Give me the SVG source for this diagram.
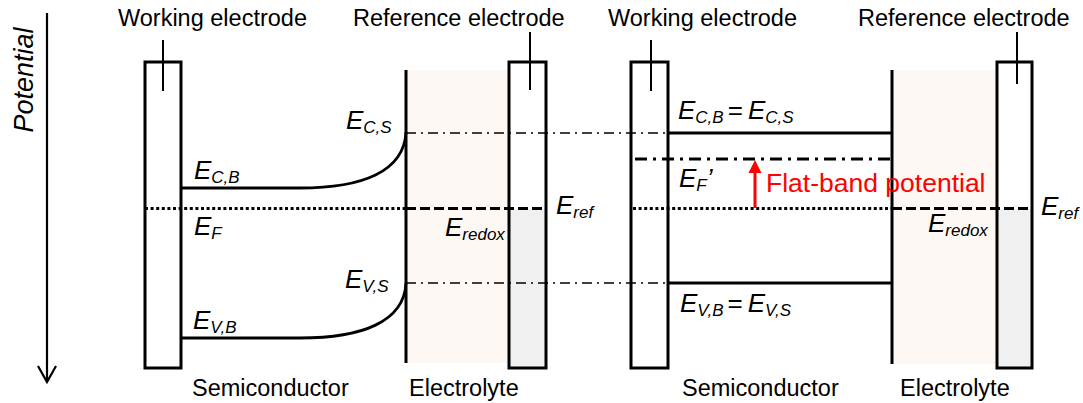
<svg xmlns="http://www.w3.org/2000/svg" width="1083" height="403" viewBox="0 0 1083 403">
<style>
text{font-family:"Liberation Sans",Arial,sans-serif;fill:#000}
.lbl{font-size:23.5px}
.E{font-size:26px;font-style:italic}
.sub{font-size:17px;font-style:italic}
.box{fill:none;stroke:#000;stroke-width:3}
.tick{stroke:#000;stroke-width:2}
.band{fill:none;stroke:#000;stroke-width:2.8}
.iface{stroke:#000;stroke-width:3}
.dd{stroke:#000;stroke-width:1.6;stroke-dasharray:10 5 2 5;fill:none}
.ddb{stroke:#000;stroke-width:3;stroke-dasharray:12 6 3 6;fill:none}
.dot{stroke:#000;stroke-width:3;stroke-dasharray:3 2.6;fill:none}
.dash{stroke:#000;stroke-width:3;stroke-dasharray:10 4;fill:none}
.elec{fill:#FDF8F3}
.gray{fill:#F0F0F0}
</style>

<!-- Potential axis -->
<g id="axis">
<line x1="47" y1="13" x2="47" y2="382" stroke="#000" stroke-width="2.2"/>
<polyline points="38,366 47,382 56,366" fill="none" stroke="#000" stroke-width="2.2"/>
<text transform="translate(33,80) rotate(-90)" text-anchor="middle" style="font-size:27px;font-style:italic">Potential</text>
</g>

<!-- fills -->
<g id="fills">
<rect class="elec" x="406" y="70" width="103" height="293"/>
<rect class="elec" x="892" y="70" width="105" height="294"/>
<rect class="gray" x="509" y="209" width="37" height="159"/>
<rect class="gray" x="997" y="209" width="35" height="159"/>
</g>

<!-- connectors / levels -->
<g id="connectors">
<path class="dd" d="M406,133 H668"/>
<path class="dd" d="M406,283 H668"/>
<path class="band" d="M181,188 H300 C362,188 404,172 406,132"/>
<path class="band" d="M181,338 H300 C362,338 404,322 406,283"/>
<path class="dot" d="M145,208.5 H406"/>
<path class="dash" d="M406,208.5 H546"/>
<path class="band" d="M668,133 H892"/>
<path class="band" d="M668,283 H892"/>
<path class="ddb" d="M635,159 H892"/>
<path class="dot" d="M633,208.5 H892"/>
<path class="dash" d="M892,208.5 H1032"/>
<line x1="755" y1="208" x2="755" y2="172" stroke="#FF0000" stroke-width="3"/>
<path d="M748.5,173 L755,160 L761.5,173 Z" fill="#FF0000"/>
</g>

<!-- left panel -->
<g id="we-left">
<rect class="box" x="145" y="62" width="36" height="306"/>
<line class="tick" x1="163" y1="40" x2="163" y2="91"/>
<text class="lbl" x="118" y="26">Working electrode</text>
</g>
<g id="interface-left">
<line class="iface" x1="406" y1="70" x2="406" y2="363"/>
</g>
<g id="re-left">
<rect class="box" x="509" y="62" width="37" height="306"/>
<line class="tick" x1="530" y1="32" x2="530" y2="90"/>
<text class="lbl" x="353" y="26">Reference electrode</text>
</g>

<!-- right panel -->
<g id="we-right">
<rect class="box" x="631" y="62" width="37" height="306"/>
<line class="tick" x1="651" y1="40" x2="651" y2="91"/>
<text class="lbl" x="608" y="26">Working electrode</text>
</g>
<g id="interface-right">
<line class="iface" x1="892" y1="70" x2="892" y2="364"/>
</g>
<g id="re-right">
<rect class="box" x="997" y="62" width="35" height="306"/>
<line class="tick" x1="1017" y1="32" x2="1017" y2="84"/>
<text class="lbl" x="858" y="26">Reference electrode</text>
</g>

<!-- energy labels -->
<g id="labels">
<text class="E" x="346" y="129">E<tspan class="sub" dy="4">C,S</tspan></text>
<text class="E" x="194" y="179">E<tspan class="sub" dy="4">C,B</tspan></text>
<text class="E" x="194" y="235">E<tspan class="sub" dy="4">F</tspan></text>
<text class="E" x="345" y="288">E<tspan class="sub" dy="4">V,S</tspan></text>
<text class="E" x="193" y="329">E<tspan class="sub" dy="4">V,B</tspan></text>
<text class="E" x="445" y="236">E<tspan class="sub" dy="4">redox</tspan></text>
<text class="E" x="556" y="214">E<tspan class="sub" dy="4">ref</tspan></text>
<text class="E" x="678" y="119">E<tspan class="sub" dy="4">C,B</tspan><tspan dy="-4" dx="4" style="font-style:normal">=</tspan><tspan dx="5">E</tspan><tspan class="sub" dy="4">C,S</tspan></text>
<text class="E" x="679" y="187">E<tspan class="sub" dy="4">F</tspan><tspan dy="-4">’</tspan></text>
<text class="E" x="680" y="312">E<tspan class="sub" dy="4">V,B</tspan><tspan dy="-4" dx="4" style="font-style:normal">=</tspan><tspan dx="5">E</tspan><tspan class="sub" dy="4">V,S</tspan></text>
<text class="E" x="928" y="232">E<tspan class="sub" dy="4">redox</tspan></text>
<text class="E" x="1041" y="215">E<tspan class="sub" dy="4">ref</tspan></text>
<text x="766" y="192" style="font-size:26.5px;fill:#FF0000">Flat-band potential</text>
</g>

<!-- bottom labels -->
<g id="bottom-labels">
<text class="lbl" x="192" y="396">Semiconductor</text>
<text class="lbl" x="409" y="396">Electrolyte</text>
<text class="lbl" x="682" y="396">Semiconductor</text>
<text class="lbl" x="900" y="396">Electrolyte</text>
</g>
</svg>
